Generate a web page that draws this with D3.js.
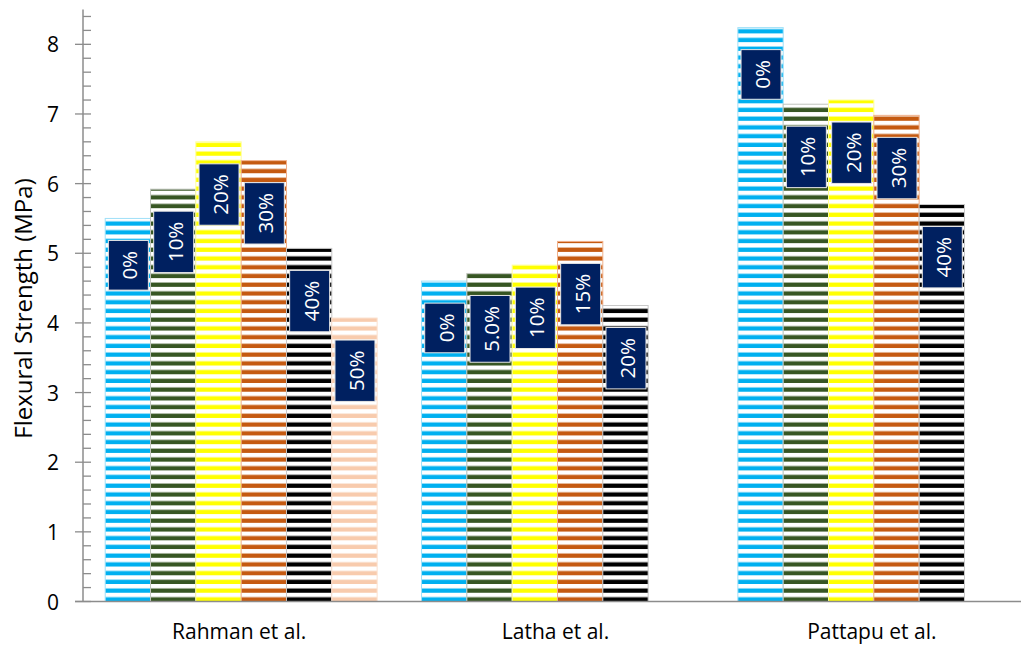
<!DOCTYPE html>
<html>
<head>
<meta charset="utf-8">
<script src="https://cdn.jsdelivr.net/npm/d3@7"></script>
<style>
  html, body { margin: 0; padding: 0; background: #fff; }
  svg { display: block; font-family: "Open Sans", "Noto Sans", sans-serif; }
</style>
</head>
<body>
<svg id="chart" width="1021" height="647"></svg>
<script>
// ---- data ----
const categories = ["Rahman et al.", "Latha et al.", "Pattapu et al."];
const seriesNames = ["S1", "S2", "S3", "S4", "S5", "S6"];
const seriesColors = ["#00B0F0", "#375623", "#FFFF00", "#C55A11", "#000000", "#F8CBAD"];
const seriesOutline = ["#9fe0f8", "#c0c4bd", "#ffff9a", "#f0b08a", "#c8c8c8", "#fbe0ce"];
const s1 = [5.50, 4.60, 8.24];
const s2 = [5.92, 4.71, 7.14];
const s3 = [6.60, 4.83, 7.20];
const s4 = [6.33, 5.17, 6.98];
const s5 = [5.07, 4.25, 5.70];
const s6 = [4.07, null, null];
const seriesValues = [s1, s2, s3, s4, s5, s6];
const labelsRahman = ["0%", "10%", "20%", "30%", "40%", "50%"];
const labelsLatha = ["0%", "5.0%", "10%", "15%", "20%"];
const labelsPattapu = ["0%", "10%", "20%", "30%", "40%"];
const pointLabels = [labelsRahman, labelsLatha, labelsPattapu];
const yTicks = [0, 1, 2, 3, 4, 5, 6, 7, 8];
const yMinorTicks = d3.range(0, 43).map(i => i * 0.2).filter(v => v <= 8.41 && Math.abs(v - Math.round(v)) > 0.01);
const yTitle = "Flexural Strength (MPa)";

// ---- layout ----
const svg = d3.select("#chart");
const plotLeft = 83, plotBottom = 601.5, plotTop = 9.5;
const y = d3.scaleLinear().domain([0, 8.5]).range([plotBottom, plotTop]);
const x0 = d3.scaleBand().domain(categories).range([plotLeft, plotLeft + 949]).padding(0);
const x1 = d3.scaleBand().domain(seriesNames).range([0, x0.bandwidth()]).paddingInner(0).paddingOuter(0.49);

// stripe patterns
const period = 8.74, stripe = 4.3;
const defs = svg.append("defs");
seriesColors.forEach((c, i) => {
  const p = defs.append("pattern")
    .attr("id", "pat" + i)
    .attr("patternUnits", "userSpaceOnUse")
    .attr("x", 0).attr("y", y(0))
    .attr("width", 20).attr("height", period);
  p.append("rect").attr("width", 20).attr("height", period).attr("fill", "#fff");
  p.append("rect").attr("y", period - stripe).attr("width", 20).attr("height", stripe).attr("fill", c);
});

// bars
const barData = [];
categories.forEach((cat, ci) => {
  seriesNames.forEach((s, si) => {
    const v = seriesValues[si][ci];
    if (v != null) barData.push({ cat, ci, s, si, v, label: pointLabels[ci][si] });
  });
});

const g = svg.append("g");
g.selectAll("rect.bar").data(barData).enter().append("rect")
  .attr("class", "bar")
  .attr("x", d => x0(d.cat) + x1(d.s))
  .attr("y", d => y(d.v))
  .attr("width", x1.bandwidth())
  .attr("height", d => y(0) - y(d.v))
  .attr("fill", d => "url(#pat" + d.si + ")")
  .attr("stroke", d => seriesOutline[d.si])
  .attr("stroke-width", 1);

// axes
const axisColor = "#8c8c8c";
const ax = svg.append("g");
ax.append("line").attr("x1", plotLeft).attr("x2", plotLeft).attr("y1", plotTop).attr("y2", plotBottom)
  .attr("stroke", axisColor).attr("stroke-width", 1.5);
ax.append("line").attr("x1", plotLeft - 8).attr("x2", 1021).attr("y1", plotBottom).attr("y2", plotBottom)
  .attr("stroke", axisColor).attr("stroke-width", 1.5);
ax.selectAll("line.major").data(yTicks).enter().append("line")
  .attr("x1", plotLeft - 8).attr("x2", plotLeft + 8)
  .attr("y1", d => y(d)).attr("y2", d => y(d))
  .attr("stroke", axisColor).attr("stroke-width", 1.3);
ax.selectAll("line.minor").data(yMinorTicks).enter().append("line")
  .attr("x1", plotLeft).attr("x2", plotLeft + 8)
  .attr("y1", d => y(d)).attr("y2", d => y(d))
  .attr("stroke", axisColor).attr("stroke-width", 1.3);
ax.selectAll("text.ytick").data(yTicks).enter().append("text")
  .attr("x", 59).attr("y", d => y(d))
  .attr("text-anchor", "end").attr("dominant-baseline", "central")
  .attr("font-size", 21).attr("fill", "#000")
  .text(d => d);

svg.append("text")
  .attr("transform", `translate(22, ${(plotTop + plotBottom) / 2 + 3}) rotate(-90)`)
  .attr("text-anchor", "middle").attr("dominant-baseline", "central")
  .attr("font-size", 24).attr("fill", "#000")
  .text(yTitle);

svg.selectAll("text.cat").data(categories).enter().append("text")
  .attr("x", d => x0(d) + x0.bandwidth() / 2 - 2)
  .attr("y", 631)
  .attr("text-anchor", "middle").attr("dominant-baseline", "central")
  .attr("font-size", 21).attr("fill", "#000")
  .text(d => d);

// data labels
const lg = svg.append("g");
barData.forEach(d => {
  const cx = x0(d.cat) + x1(d.s) + x1.bandwidth() / 2 + 0.5;
  const t = lg.append("text")
    .attr("font-size", 20.5).attr("fill", "#fff")
    .attr("text-anchor", "middle").attr("dominant-baseline", "central")
    .text(d.label);
  const len = t.node().getComputedTextLength();
  const h = len + 21;
  const boxTop = y(d.v) + 22;
  lg.insert("rect", "text")
    .attr("x", cx - 20).attr("y", boxTop)
    .attr("width", 40).attr("height", h)
    .attr("fill", "#002060").attr("stroke", "#e6e6e6").attr("stroke-width", 1);
  t.attr("transform", `translate(${cx + 1}, ${boxTop + h / 2}) rotate(-90)`);
});
</script>
</body>
</html>
